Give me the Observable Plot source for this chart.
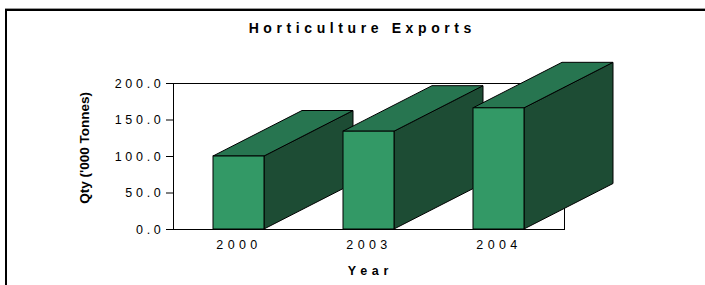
<!DOCTYPE html>
<html>
<head>
<meta charset="utf-8">
<script src="https://cdn.jsdelivr.net/npm/d3@7"></script>
<script src="https://cdn.jsdelivr.net/npm/@observablehq/plot@0.6"></script>
<style>
  body { margin: 0; background: #fff; }
  #wrap { position: relative; width: 705px; height: 285px; overflow: hidden; font-family: "Liberation Sans", Arial, sans-serif; }
  #b1 { position: absolute; left: 5px; top: 8px; width: 900px; height: 400px; border-top: 1px solid #9a9a9a; }
  #b2 { position: absolute; left: 5px; top: 9px; width: 900px; height: 400px; border-top: 2px solid #000; border-left: 2px solid #000; }
  #chart { position: absolute; left: 0; top: 0; }
  #chart svg { background: transparent !important; overflow: visible; }
  g[aria-label="y-axis tick label"] text { letter-spacing: 3.7px; }
  g[aria-label="x-axis tick label"] text { letter-spacing: 4.4px; }
</style>
</head>
<body>
<div id="wrap">
  <div id="b1"></div>
  <div id="b2"></div>
  <div id="chart"></div>
</div>
<script>
// ---- data ----
const years = ["2000", "2003", "2004"];
const qty = [100, 134, 166];
const yTicks = [0, 50, 100, 150, 200];
const chartTitle = "Horticulture Exports";
const xTitle = "Year";
const yTitle = "Qty ('000 Tonnes)";

const data = years.map((year, i) => ({year, qty: qty[i]}));

// ---- style ----
const FRONT = "#339966";
const TOP = "#277550";
const SIDE = "#1d4c34";
const DX = 89, DY = -45.5; // 3D depth offset in pixels

function depthFaces(d) {
  return (index, scales) => {
    const x = scales.x, y = scales.y;
    const bw = typeof x.bandwidth === "function" ? x.bandwidth() : scales.scales.x.bandwidth;
    const x0 = x(d.year), x1 = x0 + bw, y0 = y(0), y1 = y(d.qty);
    const g = d3.create("svg:g")
      .attr("stroke", "#000").attr("stroke-width", 1).attr("stroke-linejoin", "round");
    g.append("path").attr("fill", SIDE)
      .attr("d", `M${x1},${y0}L${x1 + DX},${y0 + DY}L${x1 + DX},${y1 + DY}L${x1},${y1}Z`);
    g.append("path").attr("fill", TOP)
      .attr("d", `M${x0},${y1}L${x0 + DX},${y1 + DY}L${x1 + DX},${y1 + DY}L${x1},${y1}Z`);
    return g.node();
  };
}

const barMarks = data.flatMap(d => [
  depthFaces(d),
  Plot.barY([d], {x: "year", y: "qty", fill: FRONT, stroke: "#000", strokeWidth: 1})
]);

const chart = Plot.plot({
  width: 705,
  height: 285,
  marginLeft: 173,
  marginRight: 141,
  marginTop: 83,
  marginBottom: 56,
  style: {fontFamily: '"Liberation Sans", Arial, sans-serif', background: "transparent", color: "#000", overflow: "visible"},
  x: {domain: years, paddingInner: 0.61, paddingOuter: 0.305, label: null},
  y: {domain: [0, 200], label: null},
  marks: [
    Plot.frame({stroke: "#000", strokeWidth: 1}),
    Plot.axisY({ticks: yTicks, tickFormat: d3.format(".1f"), tickSize: 7, tickPadding: 2, fontSize: 12.5, label: null}),
    Plot.axisX({tickSize: 0, tickPadding: 10.5, fontSize: 12.5, label: null}),
    ...barMarks,
    Plot.text([chartTitle], {frameAnchor: "top", text: d => d, textAnchor: "middle", lineAnchor: "middle",
      dx: -6.7, dy: -54.7, fontSize: 14, fontWeight: "bold"}),
    Plot.text([yTitle], {frameAnchor: "left", text: d => d, textAnchor: "middle", lineAnchor: "middle",
      rotate: -90, dx: -89.2, dy: -8.7, fontSize: 13.5, fontWeight: "bold"}),
    Plot.text([xTitle], {frameAnchor: "bottom", text: d => d, textAnchor: "middle", lineAnchor: "middle",
      dx: 1.4, dy: 41.8, fontSize: 12.5, fontWeight: "bold"})
  ]
});

// letter spacing for the spaced-out labels
d3.select(chart).selectAll("text").each(function () {
  const t = this.textContent;
  if (t === chartTitle) this.style.letterSpacing = "4.6px";
  else if (t === xTitle) this.style.letterSpacing = "4.7px";
});

document.getElementById("chart").appendChild(chart);
</script>
</body>
</html>
